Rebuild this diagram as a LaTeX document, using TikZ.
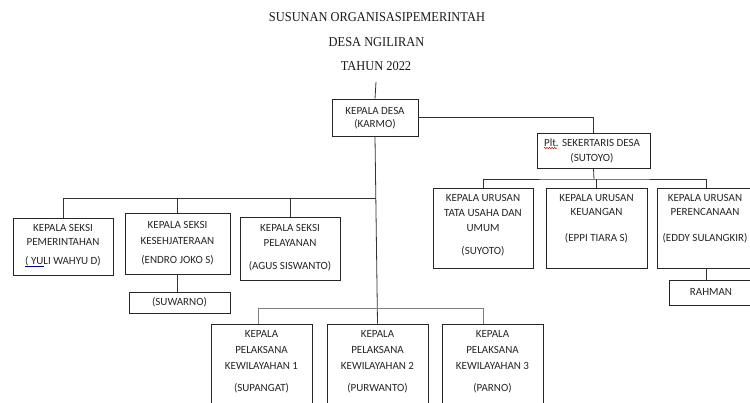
\documentclass[tikz,border=0pt]{standalone}
\usepackage{fontspec}
\setmainfont{Carlito}
\newfontfamily\titlefont[FakeStretch=0.92]{Liberation Serif}
\usetikzlibrary{decorations.pathmorphing,calc}
\begin{document}
\begin{tikzpicture}[x=1pt,y=-1pt,
  box/.style={draw=black!85,line width=0.8pt,rectangle,inner sep=0pt},
  txt/.style={font=\fontsize{11}{12}\selectfont,text=black!85,inner sep=0pt},
  ttl/.style={font=\titlefont\fontsize{13.5}{14}\selectfont,text=black!90,inner sep=0pt},
  con/.style={draw=black!80,line width=0.8pt},
  gcon/.style={draw=black!50,line width=0.8pt}]
\clip (0,0) rectangle (750,403);
\useasboundingbox (0,0) rectangle (750,403);
\fill[white] (0,0) rectangle (750,403);
% titles
\node[ttl] (t1) at (377,17) {SUSUNAN ORGANISASIPEMERINTAH};
\node[ttl] (t2) at (376.5,42) {DESA NGILIRAN};
\node[ttl] (t3) at (376,66) {TAHUN 2022};
\coordinate (top) at (376,82);
% boxes
\node[box,minimum width=86pt,minimum height=37pt] (kd) at (375,117.5) {};
\node[box,minimum width=113pt,minimum height=35pt] (sek) at (593.5,150.5) {};
\node[box,minimum width=100pt,minimum height=57pt] (ps) at (63,246.5) {};
\node[box,minimum width=105pt,minimum height=61pt] (ks) at (177.5,243.5) {};
\node[box,minimum width=100pt,minimum height=63pt] (pl) at (290,248.5) {};
\node[box,minimum width=101pt,minimum height=21pt] (sw) at (179.5,302.5) {};
\node[box,minimum width=101pt,minimum height=90pt] (kw1) at (261.5,369) {};
\node[box,minimum width=101pt,minimum height=90pt] (kw2) at (377.5,369) {};
\node[box,minimum width=101pt,minimum height=90pt] (kw3) at (492.5,369) {};
\node[box,minimum width=100pt,minimum height=80pt] (tu) at (483,228) {};
\node[box,minimum width=101pt,minimum height=80pt] (ku) at (596.5,228) {};
\node[box,minimum width=98pt,minimum height=80pt] (pr) at (706,228) {};
\node[box,minimum width=86pt,minimum height=25pt] (rh) at (712,292.5) {};
% texts
\node[txt] at (375,111) {KEPALA DESA};
\node[txt] at (375,124) {(KARMO)};
\node[txt] (plt) at (592,143) {Plt. SEKERTARIS DESA};
\node[txt] at (592,158) {(SUTOYO)};
\node[txt] at (63,228) {KEPALA SEKSI};
\node[txt] at (63,242) {PEMERINTAHAN};
\node[txt] (yuli) at (63,261) {( YULI WAHYU D)};
\node[txt] at (177.5,225) {KEPALA SEKSI};
\node[txt] at (177.5,241) {KESEHJATERAAN};
\node[txt] at (177.5,260) {(ENDRO JOKO S)};
\node[txt] at (290,228) {KEPALA SEKSI};
\node[txt] at (290,243) {PELAYANAN};
\node[txt] at (290,266) {(AGUS SISWANTO)};
\node[txt] at (179.5,302) {(SUWARNO)};
\foreach \c/\num/\nm in {261.5/1/SUPANGAT,377.5/2/PURWANTO,492.5/3/PARNO}{
  \node[txt] at (\c,334) {KEPALA};
  \node[txt] at (\c,350) {PELAKSANA};
  \node[txt] at (\c,365.5) {KEWILAYAHAN \num};
  \node[txt] at (\c,388) {(\nm)};
}
\node[txt] at (483,198) {KEPALA URUSAN};
\node[txt] at (483,213) {TATA USAHA DAN};
\node[txt] at (483,228) {UMUM};
\node[txt] at (483,251) {(SUYOTO)};
\node[txt] at (596.5,198) {KEPALA URUSAN};
\node[txt] at (596.5,212) {KEUANGAN};
\node[txt] at (596.5,238) {(EPPI TIARA S)};
\node[txt] at (705,198) {KEPALA URUSAN};
\node[txt] at (705,212) {PERENCANAAN};
\node[txt] at (705,238) {(EDDY SULANGKIR)};
\node[txt] at (711,292) {RAHMAN};
% spell marks
\draw[red!80!black,line width=0.5pt,decorate,decoration={snake,amplitude=0.6pt,segment length=2.5pt}] ($(plt.west)+(0,5)$) -- ++(13,0);
\draw[blue!60!black,line width=0.6pt] ($(yuli.west)+(0,5)$) -- ++(19,0);
% connectors
\coordinate (j1) at (376,198);
\coordinate (k1) at (258,308);
\coordinate (k3) at (483,308);
\coordinate (j3) at (594,179);
\draw[con] (top) -- (kd.north);
\draw[con] (kd.east) -| (sek.north);
\draw[con] (kd.south) -- (kw2.north);
\draw[con] (ps.north) |- (j1);
\draw[con] (ks.north) -- (ks.north |- j1);
\draw[con] (pl.north) -- (pl.north |- j1);
\draw[con] (ks.south) -- (ks.south |- sw.north);
\draw[gcon] (k1) -- (k3);
\draw[gcon] (k1) -- (k1 |- kw1.north);
\draw[gcon] (k3) -- (k3 |- kw3.north);
\draw[con] (sek.south) -- (j3);
\draw[con] (tu.north) |- (j3) -| (pr.north);
\draw[con] (ku.north) -- (ku.north |- j3);
\draw[con] (pr.south) -- (pr.south |- rh.north);
\end{tikzpicture}
\end{document}
